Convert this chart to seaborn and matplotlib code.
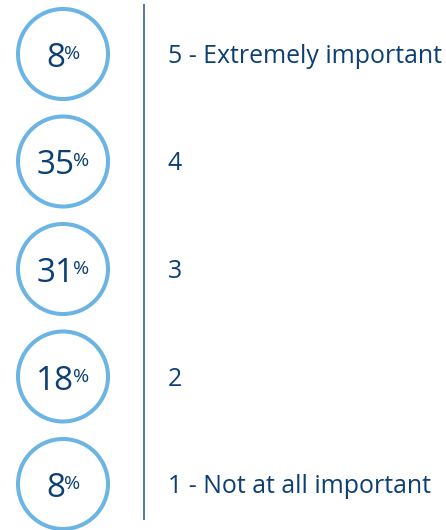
import matplotlib
matplotlib.use("Agg")
import matplotlib.pyplot as plt
import seaborn as sns
import pandas as pd

# ---- data ----
ratings = ["5 - Extremely important", "4", "3", "2", "1 - Not at all important"]
percents = [8, 35, 31, 18, 8]

df = pd.DataFrame({"rating": ratings, "percent": percents, "col": [63] * len(ratings)})

sns.set_theme(style="white")
plt.rcParams["font.family"] = ["Open Sans", "DejaVu Sans"]

NAVY = "#0c3f74"
LIGHT = "#6cb4e4"

W, H = 446, 530
fig = plt.figure(figsize=(W / 100, H / 100), dpi=100)
ax = fig.add_axes([0, 0, 1, 1])

ROW_PX = 107.5
TOP_PX = 54

sns.scatterplot(data=df, x="col", y="rating", s=4200, marker="o",
                facecolor="none", edgecolor=LIGHT, linewidth=2.9,
                legend=False, ax=ax, zorder=3)

ax.set_xlim(0, W)
ax.set_ylim((H - TOP_PX) / ROW_PX, -TOP_PX / ROW_PX)
ax.axis("off")

# vertical divider
ax.plot([144, 144], [(4 - TOP_PX) / ROW_PX, (520 - TOP_PX) / ROW_PX],
        color="#2b5283", lw=1.1, solid_capstyle="butt")

renderer = fig.canvas.get_renderer()
px = 1.0 / ROW_PX
for i, (lab, p) in enumerate(zip(ratings, percents)):
    yb = i + 13 * px
    tn = ax.text(0, yb, f"{p}", fontsize=24, color=NAVY, ha="left", va="baseline")
    tp = ax.text(0, yb - 8 * px, "%", fontsize=14, color=NAVY, ha="left", va="baseline")
    wn = tn.get_window_extent(renderer).width
    wp = tp.get_window_extent(renderer).width
    gap = -1.0
    total = wn + gap + wp
    x0 = 63 - total / 2
    tn.set_x(x0)
    tp.set_x(x0 + wn + gap)
    ax.text(168, i + 9 * px, lab, fontsize=17.9, color=NAVY, ha="left", va="baseline")

fig.savefig("out.png", dpi=100)
